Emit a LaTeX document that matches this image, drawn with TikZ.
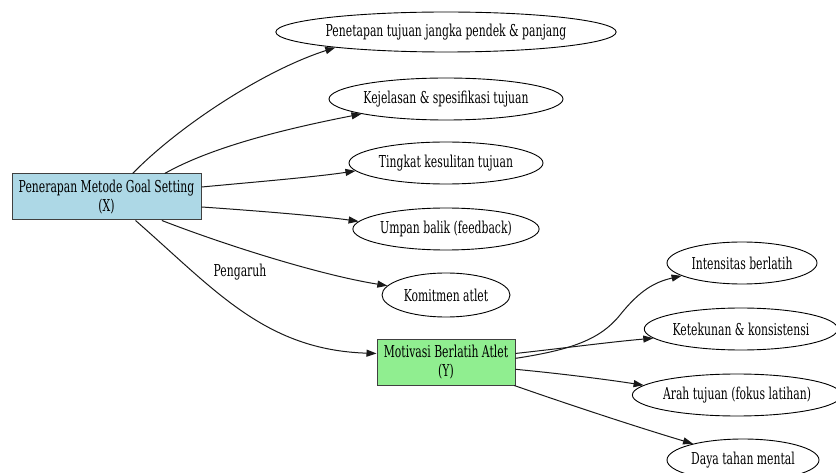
\documentclass[tikz,border=0pt]{standalone}
\usepackage{fontspec}
\setmainfont{DejaVu Serif}[FakeStretch=0.66]
\usetikzlibrary{shapes.geometric,arrows.meta}
\definecolor{boxblue}{HTML}{ADD8E6}
\definecolor{boxgreen}{HTML}{90EE90}
\definecolor{boxline}{HTML}{404040}
\tikzset{
  lbl/.style={font=\fontsize{16.4}{19}\selectfont, text=black},
  oval/.style={ellipse, draw=black, line width=0.9pt, inner sep=0pt, lbl},
  rectbox/.style={rectangle, draw=boxline, line width=1pt, inner sep=0pt, align=center, lbl},
  link/.style={draw=black!90, line width=1pt, -{Triangle[length=10pt,width=7pt]}},
}
\begin{document}
\begin{tikzpicture}[x=1pt,y=-1pt]
\useasboundingbox (0,0) rectangle (836,473);
% main nodes
\node[rectbox, fill=boxblue, minimum width=189pt, minimum height=46pt] (X) at (106.5,197) {Penerapan Metode Goal Setting\\(X)};
\node[rectbox, fill=boxgreen, minimum width=138pt, minimum height=46pt] (Y) at (446,362) {Motivasi Berlatih Atlet\\(Y)};
% X indicators
\node[oval, minimum width=328pt, minimum height=40pt] (e1) at (446,32) {Penetapan tujuan jangka pendek \& panjang};
\node[oval, minimum width=234pt, minimum height=42pt] (e2) at (446,99) {Kejelasan \& spesifikasi tujuan};
\node[oval, minimum width=194pt, minimum height=42pt] (e3) at (446,163) {Tingkat kesulitan tujuan};
\node[oval, minimum width=186pt, minimum height=42pt] (e4) at (446,229) {Umpan balik (feedback)};
\node[oval, minimum width=128pt, minimum height=44pt] (e5) at (446,295) {Komitmen atlet};
% Y indicators
\node[oval, minimum width=150pt, minimum height=42pt] (in) at (742,263) {Intensitas berlatih};
\node[oval, minimum width=190pt, minimum height=42pt] (ke) at (741,329) {Ketekunan \& konsistensi};
\node[oval, minimum width=196pt, minimum height=42pt] (ar) at (737,395) {Arah tujuan (fokus latihan)};
\node[oval, minimum width=152pt, minimum height=42pt] (da) at (743,460) {Daya tahan mental};
% label
\node[lbl, inner sep=0pt] (lab) at (240,272) {Pengaruh};
% edges from X
\draw[link] (X.42) .. controls (180,125) and (265,70) .. (e1.188);
\draw[link] (X.22.5) .. controls (215,145) and (295,127) .. (e2.190);
\draw[link] (X.6) .. controls (255,182) and (315,177) .. (e3.185.8);
\draw[link] (X.354.6) .. controls (260,211) and (320,216) .. (e4.175.3);
\draw[link] (X.337.5) .. controls (225,245) and (320,275) .. (e5.171.2);
\draw[link] (X.321) .. controls (215,290) and (265,350) .. (Y.173);
% edges from Y
\draw[link] (Y.3.3) .. controls (570,350) and (600,340) .. (620,315) .. controls (640,290) and (655,282) .. (in.192.2);
\draw[link] (Y.7.4) .. controls (565,348) and (610,342) .. (ke.186.1);
\draw[link] (Y.354.2) .. controls (565,374) and (610,380) .. (ar.174);
\draw[link] (Y.341) .. controls (570,405) and (640,428) .. (da.162.2);
\end{tikzpicture}
\end{document}
